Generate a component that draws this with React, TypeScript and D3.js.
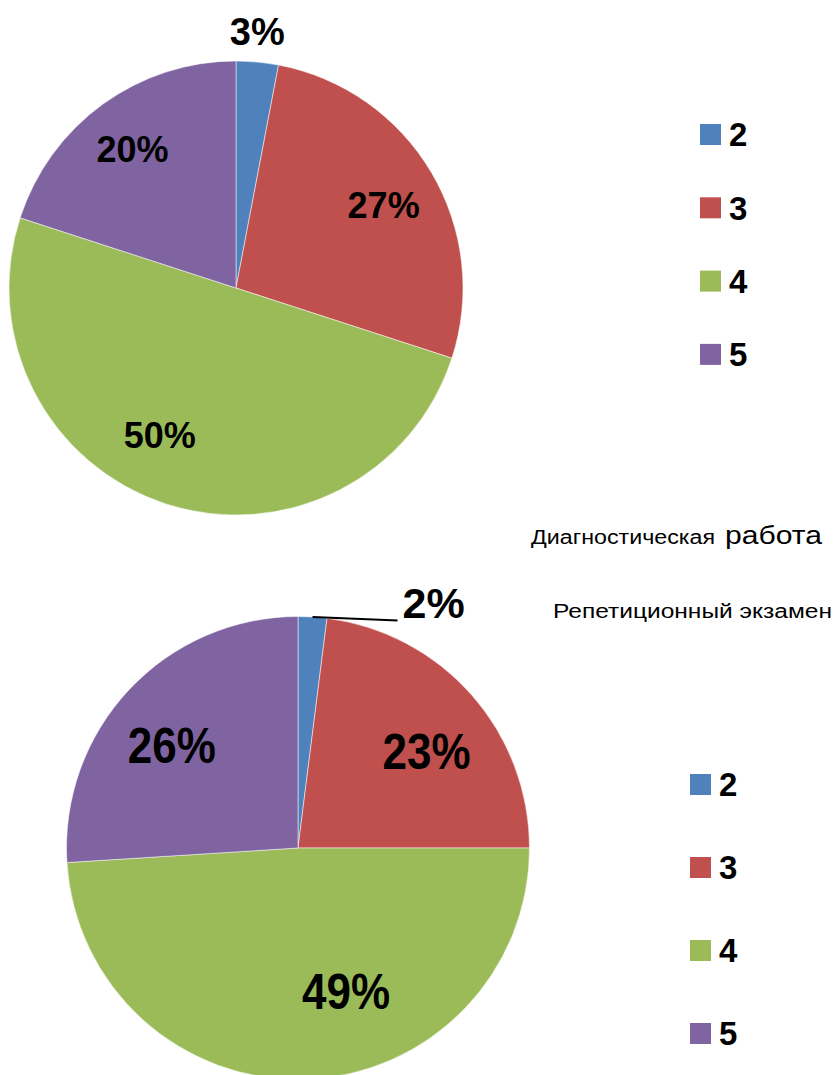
import React from "react";
import * as d3 from "d3";

const categories = ["2", "3", "4", "5"];
const diagValues = [3, 27, 50, 20];
const repValues = [2, 23, 49, 26];
const colors = ["#4F81BD", "#C0504D", "#9BBB59", "#8064A2"];
const titleDiagA = "Диагностическая";
const titleDiagB = "работа";
const titleRep = "Репетиционный экзамен";

const FONT = "'Liberation Sans', Arial, sans-serif";

type PieCfg = {
  values: number[];
  cx: number;
  cy: number;
  r: number;
  labelFrac: number;
  fontSize: number;
  scaleX: number;
  offsets: [number, number][];
};

function Pie({ cfg, outside }: { cfg: PieCfg; outside: React.ReactNode }) {
  const pie = d3.pie<number>().sort(null).value((d) => d);
  const arcs = pie(cfg.values);
  const arc = d3.arc<d3.PieArcDatum<number>>().innerRadius(0).outerRadius(cfg.r);
  const lr = cfg.r * cfg.labelFrac;
  return (
    <g>
      <g transform={`translate(${cfg.cx},${cfg.cy})`}>
        {arcs.map((a, i) => (
          <path key={i} d={arc(a) || ""} fill={colors[i]} stroke="#ffffff" strokeOpacity={0.5} strokeWidth={1} />
        ))}
      </g>
      {arcs.map((a, i) => {
        if (i === 0) return null;
        const m = (a.startAngle + a.endAngle) / 2;
        const x = cfg.cx + lr * Math.sin(m) + cfg.offsets[i][0];
        const y = cfg.cy - lr * Math.cos(m) + cfg.offsets[i][1];
        return (
          <text
            key={i}
            transform={`translate(${x},${y + 0.358 * cfg.fontSize}) scale(${cfg.scaleX},1)`}
            textAnchor="middle"
            fontFamily={FONT}
            fontWeight="bold"
            fontSize={cfg.fontSize}
            fill="#000"
          >
            {Math.round(a.value)}%
          </text>
        );
      })}
      {outside}
    </g>
  );
}

function Legend({ x, y0, step }: { x: number; y0: number; step: number }) {
  return (
    <g>
      {categories.map((c, i) => {
        const cy = y0 + i * step;
        return (
          <g key={c}>
            <rect x={x} y={cy - 10.5} width={21} height={21} fill={colors[i]} />
            <text x={x + 29} y={cy + 11.8} fontFamily={FONT} fontWeight="bold" fontSize={33} fill="#000">
              {c}
            </text>
          </g>
        );
      })}
    </g>
  );
}

export default function App() {
  const top: PieCfg = {
    values: diagValues,
    cx: 236,
    cy: 288,
    r: 227,
    labelFrac: 0.73,
    fontSize: 36,
    scaleX: 1,
    offsets: [[0, 0], [5, 1], [-25, -10], [-6, -5]],
  };
  const bot: PieCfg = {
    values: repValues,
    cx: 298,
    cy: 848,
    r: 231.5,
    labelFrac: 0.7,
    fontSize: 50,
    scaleX: 0.88,
    offsets: [[0, 0], [7, 10], [43, -19], [-8, 8]],
  };

  const pie = d3.pie<number>().sort(null).value((d) => d);
  const ta = pie(diagValues)[0];
  const tm = (ta.startAngle + ta.endAngle) / 2;
  const tr = top.r * 1.135;
  const tx = top.cx + tr * Math.sin(tm) - 3;
  const ty = top.cy - tr * Math.cos(tm);
  const topOutside = (
    <text x={tx} y={ty + 0.358 * 38} textAnchor="middle" fontFamily={FONT} fontWeight="bold" fontSize={38} fill="#000">
      {Math.round(ta.value)}%
    </text>
  );

  const ba = pie(repValues)[0];
  const bm = (ba.startAngle + ba.endAngle) / 2;
  const sx = bot.cx + bot.r * Math.sin(bm);
  const sy = bot.cy - bot.r * Math.cos(bm);
  const ex = sx + 85;
  const ey = sy + 3.5;
  const botOutside = (
    <g>
      <line x1={sx} y1={sy} x2={ex} y2={ey} stroke="#000" strokeWidth={2} />
      <text x={ex + 5} y={ey - 17.5 + 0.358 * 43} textAnchor="start" fontFamily={FONT} fontWeight="bold" fontSize={43} fill="#000">
        {Math.round(ba.value)}%
      </text>
    </g>
  );

  return (
    <svg
      width={835}
      height={1075}
      style={{ position: "absolute", left: 0, top: 0, display: "block", background: "#fff" }}
    >
      <rect x={0} y={0} width={835} height={1075} fill="#fff" />
      <Pie cfg={top} outside={topOutside} />
      <Pie cfg={bot} outside={botOutside} />
      <Legend x={700} y0={134.5} step={73.3} />
      <Legend x={690} y0={784.5} step={83} />
      <text x={531} y={544} fontFamily={FONT} fontSize={20} fill="#000" textLength={184} lengthAdjust="spacingAndGlyphs">
        {titleDiagA}
      </text>
      <text x={725} y={544} fontFamily={FONT} fontSize={26} fill="#000" textLength={97} lengthAdjust="spacingAndGlyphs">
        {titleDiagB}
      </text>
      <text x={553} y={618} fontFamily={FONT} fontSize={20} fill="#000" textLength={279} lengthAdjust="spacingAndGlyphs">
        {titleRep}
      </text>
    </svg>
  );
}
